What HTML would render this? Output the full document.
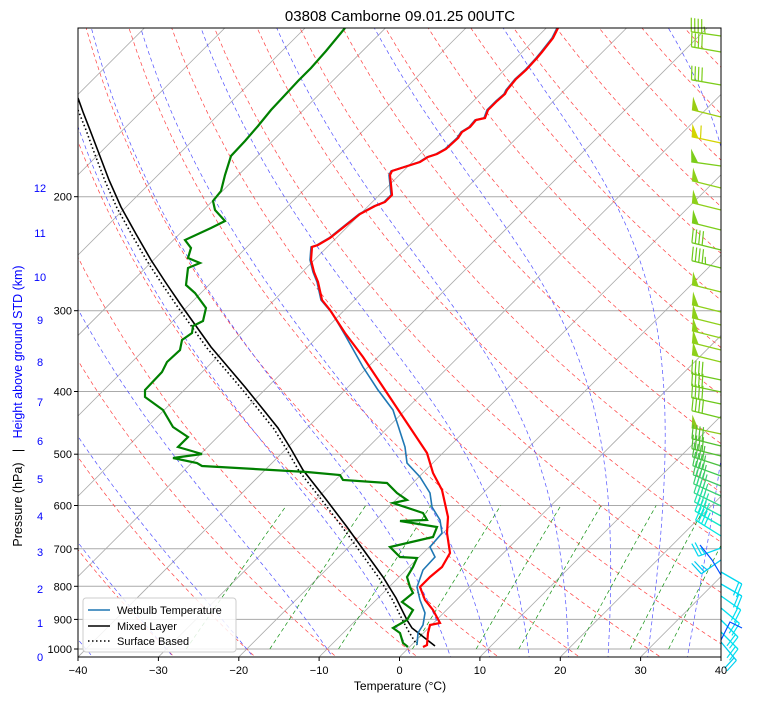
<!DOCTYPE html>
<html><head><meta charset="utf-8"><style>
html,body{margin:0;padding:0;background:#fff;}
svg{display:block;font-family:"Liberation Sans",sans-serif;}
</style></head><body>
<svg id="s" width="757" height="712" viewBox="0 0 757 712" xmlns="http://www.w3.org/2000/svg">
<defs><clipPath id="c"><rect x="78" y="28" width="643" height="629"/></clipPath></defs>
<rect width="757" height="712" fill="#fff"/>
<g id="bg" clip-path="url(#c)"></g>
<g id="data" clip-path="url(#c)">
<polyline fill="none" stroke="#000" stroke-width="1.6" points="78,98 83,112 90,130 98,151 109,180 121,207 136,234 151,260 166,283 181,305 196,326 211,347 228,367 245,387 262,408 278,428 291,449 303,470 325,498 347,527 365,552 383,577 396,598 407,620 412,628 435,646"/>
<polyline fill="none" stroke="#000" stroke-width="1.6" stroke-dasharray="1.5,2.5" points="78,110 86,130 94,152 105,181 117,208 132,235 147,261 162,284 177,306 192,327 207,348 224,368 241,388 258,409 274,429 287,450 299,471 321,499 343,528 361,553 379,578 392,599 403,621 409,632 417,645"/>
<polyline fill="none" stroke="#1f77b4" stroke-width="1.6" points="557,28 552,38 541,52 536,58 525,70 515,79 506,90 504,94 496,101 487,110 484,118 475,120 469,127 461,132 457,138 445,149 436,154 427,157 419,162 391,171 389,175 391,195 384,202 374,206 359,214 344,226 329,238 317,245 311,247 310,260 313,272 317,282 321,300 332,313 345,335 363,367 378,390 393,410 405,447 407,463 420,477 430,493 432,507 440,520 442,533 430,547 435,557 423,570 417,587 420,600 425,613 423,625 418,633 417,645"/>
<polyline fill="none" stroke="#ff0000" stroke-width="2.2" points="558,28 553,38 542,52 537,58 526,70 516,79 507,90 505,94 497,101 488,110 485,118 476,120 470,127 462,132 458,138 446,149 437,154 428,157 420,162 392,171 390,175 392,195 385,202 375,206 360,214 345,226 330,238 318,245 312,247 311,260 314,272 318,282 322,300 330,310 345,333 363,357 383,387 403,417 415,435 427,453 433,473 442,490 448,517 447,533 450,553 442,567 430,577 420,587 425,600 433,610 440,623 430,625 428,633 427,645 423,647"/>
<polyline fill="none" stroke="#008000" stroke-width="2.2" points="345,28 326,51 311,68 298,81 285,95 271,110 258,126 245,141 231,156 225,175 221,191 213,201 215,210 225,221 211,228 185,240 191,248 188,258 200,263 188,268 186,285 195,293 206,308 203,321 193,326 192,333 182,340 180,350 167,362 162,372 145,390 145,397 163,410 173,427 188,437 178,447 202,454 173,458 197,463 202,466 307,472 340,475 343,480 387,483 397,493 407,500 393,503 423,513 427,520 400,521 437,527 433,537 390,547 400,557 417,558 413,567 407,577 410,587 413,593 402,602 413,610 407,620 393,628 400,633 403,643 408,647"/>
</g>
<g id="barbs"></g>
<rect x="78" y="28" width="643" height="629" fill="none" stroke="#000" stroke-width="1"/>
<text x="400" y="21" font-size="15" text-anchor="middle">03808 Camborne 09.01.25 00UTC</text>
<g id="ax" font-size="11"></g>
<text x="400" y="690" font-size="12" text-anchor="middle">Temperature (°C)</text>
<text transform="translate(22,406) rotate(-90)" font-size="12.5" text-anchor="middle" xml:space="preserve"><tspan fill="#000">Pressure (hPa)   |   </tspan><tspan fill="#0000ff">Height above ground STD (km)</tspan></text>
<g font-size="11">
<rect x="83" y="598" width="153" height="54" rx="3" fill="#fff" fill-opacity="0.85" stroke="#ccc"/>
<line x1="88" y1="610" x2="110" y2="610" stroke="#1f77b4" stroke-width="1.6"/>
<text x="117" y="614">Wetbulb Temperature</text>
<line x1="88" y1="626" x2="110" y2="626" stroke="#000" stroke-width="1.6"/>
<text x="117" y="630">Mixed Layer</text>
<line x1="88" y1="641" x2="110" y2="641" stroke="#000" stroke-width="1.6" stroke-dasharray="1.5,2.5"/>
<text x="117" y="645">Surface Based</text>
</g>
</svg>
<script>
(function(){
var NS="http://www.w3.org/2000/svg";
function Y(p){return 649+281*Math.log(p/1000);}
function X(T,y){return 78+(T+40)*8.0375+(657-y);}
function pl(g,pts,st,w,da){var e=document.createElementNS(NS,"polyline");e.setAttribute("points",pts.map(function(q){return q[0].toFixed(1)+","+q[1].toFixed(1)}).join(" "));e.setAttribute("fill","none");e.setAttribute("stroke",st);e.setAttribute("stroke-width",w);if(da)e.setAttribute("stroke-dasharray",da);g.appendChild(e);}
var bg=document.getElementById("bg");
var P=[];for(var p=1040;p>=100;p-=10)P.push(p);
[1000,900,800,700,600,500,400,300,200].forEach(function(p){pl(bg,[[78,Y(p)],[721,Y(p)]],"#aaa",1);});
for(var T=-130;T<=40;T+=10){pl(bg,[[X(T,657),657],[X(T,28),28]],"#aaa",0.8);}
for(var th=243.15;th<=480;th+=10){pl(bg,P.map(function(p){var t=th*Math.pow(p/1000,0.2857)-273.15;var y=Y(p);return [X(t,y),y];}),"#ff4040",0.7,"4,3");}
function es(t){return 6.112*Math.exp(17.67*t/(t+243.5));}
function dTdp(p,TK){var t=TK-273.15;var e=es(t);var rs=0.622*e/(p-e);var Rd=287.04,Lv=2.501e6,cp=1005.7;return (Rd*TK+Lv*rs)/(cp+Lv*Lv*rs*0.622/(Rd*TK*TK))/p;}
[-40,-30,-20,-10,0,5,10,15,20,25,30,35,40,45].forEach(function(t0){var TK=t0+273.15,p;var dn=[];var TK2=TK;for(var pp=1000;pp<=1040;pp+=5){var y=Y(pp);dn.push([X(TK2-273.15,y),y]);TK2+=dTdp(pp,TK2)*5;}
dn.reverse();var pts=dn;for(p=1000;p>=100;p-=5){TK-=dTdp(p,TK)*5;var y=Y(p-5);pts.push([X(TK-273.15,y),y]);}
pl(bg,pts,"#5050ff",0.7,"4,3");});
[0.0004,0.001,0.002,0.004,0.007,0.01,0.016,0.024,0.032].forEach(function(w){var pts=[];for(var p=1000;p>=600;p-=20){var e=p*w/(0.622+w);var l=Math.log(e/6.112);var td=243.5*l/(17.67-l);var y=Y(p);pts.push([X(td,y),y]);}pl(bg,pts,"#109010",0.7,"4,3");});
var ax=document.getElementById("ax");
function txt(x,y,s,anc,col){var e=document.createElementNS(NS,"text");e.setAttribute("x",x);e.setAttribute("y",y);e.setAttribute("text-anchor",anc);if(col)e.setAttribute("fill",col);e.textContent=s;ax.appendChild(e);}
for(var T=-40;T<=40;T+=10){var x=78+(T+40)*8.0375;pl(ax,[[x,657],[x,661]],"#000",1);txt(x,674,T<0?"\u2212"+(-T):""+T,"middle");}
[1000,900,800,700,600,500,400,300,200].forEach(function(p){var y=Y(p);pl(ax,[[74,y],[78,y]],"#000",1);txt(72,y+4,""+p,"end");});
var hk=[[0,657],[1,623],[2,589],[3,552],[4,516],[5,479],[6,441],[7,402],[8,362],[9,320],[10,277],[11,233],[12,188]];
hk.forEach(function(h){txt(40,h[1]+4,""+h[0],"middle","#0000ff");});
var bb=document.getElementById("barbs");
function barb(yb,kind,n,col,a,L,bx){bx=bx||721;L=L||30;var r=a*Math.PI/180;var dx=-Math.cos(r),dy=-Math.sin(r);var tx=bx+L*dx,ty=yb+L*dy;var px=-dy,py=dx;
pl(bb,[[bx,yb],[tx,ty]],col,1.3);
if(kind=="F"){var e=document.createElementNS(NS,"polygon");e.setAttribute("points",[[tx,ty],[tx-7*dx,ty-7*dy],[tx+13*px+2*dx,ty+13*py+2*dy]].map(function(q){return q.join(",")}).join(" "));e.setAttribute("fill",col);bb.appendChild(e);
for(var i=0;i<n;i++){var sx=tx-(9+i*3.5)*dx,sy=ty-(9+i*3.5)*dy;pl(bb,[[sx,sy],[sx+13*px+2*dx,sy+13*py+2*dy]],col,1.2);}}
else{for(var i=0;i<n;i++){var sx=tx-i*3.5*dx,sy=ty-i*3.5*dy;var ln=(i==n-1&&n%2==1)?7:14;pl(bb,[[sx,sy],[sx+ln*px+2*dx,sy+ln*py+2*dy]],col,1.2);}}}
var list=[[36,"B",5,"#7ccd1a",8],[52,"B",4,"#7ccd1a",10],[85,"B",4,"#7ccd1a",10],[117,"F",0,"#9acd12",14],[143,"F",1,"#d4d400",12],[166,"F",0,"#7ccd1a",8],[188,"F",0,"#8ed01a",14],[210,"F",0,"#8ed01a",14],[230,"F",0,"#7ccd1a",14],[250,"B",4,"#6cc81a",14],[268,"B",5,"#6cc81a",14],[292,"F",0,"#8ed01a",14],[312,"F",0,"#8ed01a",14],[325,"F",0,"#8ed01a",14],[338,"F",0,"#8ed01a",14],[350,"F",0,"#8ed01a",14],[362,"F",0,"#8ed01a",14],[380,"B",4,"#6cc81a",12],[392,"B",4,"#6cc81a",12],[404,"B",4,"#6cc81a",12],[418,"B",4,"#6cc81a",14],[434,"F",0,"#8ec81a",12],[446,"B",4,"#52c030",14],[456,"B",4,"#52c030",14],[466,"B",4,"#4cc040",18],[476,"B",4,"#40c850",20],[486,"B",4,"#40c860",22],[496,"B",4,"#38d070",24],[506,"B",4,"#30d888",26],[516,"B",4,"#20e0a8",28],[526,"B",4,"#10e8c8",30],[536,"B",4,"#00e8e0",32]];
list.forEach(function(b){barb(b[0],b[1],b[2],b[3],b[4]);});
var cy=[[548,"#00d8f0",-20],[560,"#00c8f0",-35],[572,"#00d8f0",-150],[584,"#00d8f0",-150],[596,"#00e0f0",-145],[608,"#00e0f0",-140],[620,"#00e0f0",-135],[632,"#00e0f0",-135],[642,"#00d0f0",-130]];
cy.forEach(function(b,i){barb(b[0],"B",i<2?3:2,b[1],b[2],24);});
pl(bb,[[700,545],[712,560],[721,575]],"#0050ff",1.2);
pl(bb,[[721,640],[730,622],[742,628]],"#0050ff",1.2);
})();
</script>
</body></html>
